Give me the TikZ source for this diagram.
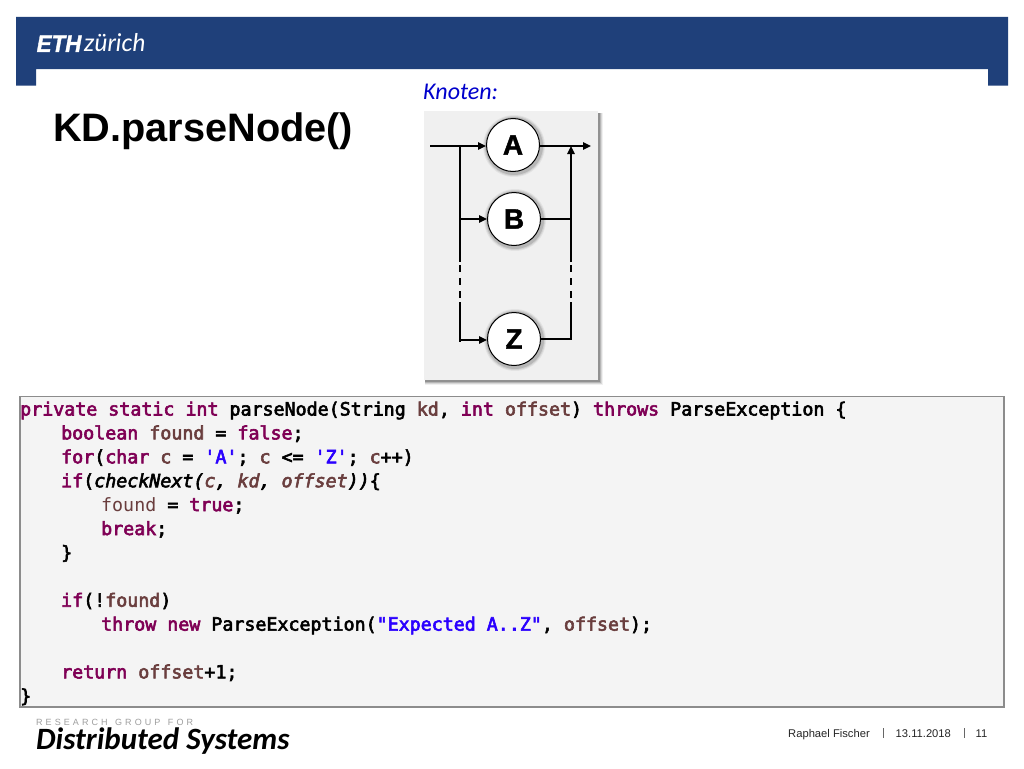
\documentclass[tikz,border=0pt]{standalone}
\usepackage{fontspec}
\setmainfont{Liberation Sans}
\newfontfamily\codefont{DejaVu Sans Mono}[BoldFont={DejaVu Sans Mono},BoldFeatures={FakeBold=3.2},ItalicFont={DejaVu Sans Mono Oblique},BoldItalicFont={DejaVu Sans Mono Oblique},BoldItalicFeatures={FakeBold=3.2}]
\newfontfamily\heavyfont{Liberation Sans Bold}[FakeBold=1.5,ItalicFont={Liberation Sans Bold Italic},ItalicFeatures={FakeBold=1.5}]
\newfontfamily\carl{Carlito}
\newfontfamily\latof{Lato}
\usetikzlibrary{arrows.meta}
\definecolor{ethblue}{HTML}{1F407A}
\definecolor{kw}{HTML}{7F0055}
\definecolor{vr}{HTML}{6A3E3E}
\definecolor{st}{HTML}{2A00FF}
\newcommand{\K}[1]{{\bfseries\color{kw}#1}}
\newcommand{\V}[1]{{\bfseries\color{vr}#1}}
\newcommand{\Vl}[1]{{\mdseries\color{vr}#1}}
\newcommand{\St}[1]{{\bfseries\color{st}#1}}
\tikzset{
  codeline/.style={anchor=base west,inner sep=0pt,font=\codefont\fontsize{18.3}{22}\selectfont\bfseries,text=black},
  circ/.style={circle,draw=black,line width=1pt,fill=white,minimum size=53pt,inner sep=0pt,font=\heavyfont\fontsize{28}{30}\selectfont},
  conn/.style={line width=1.4pt,black},
  arr/.style={conn,-{Triangle[length=8pt,width=7.5pt]}},
  foot/.style={anchor=base west,inner sep=0pt,font=\fontsize{11.2}{13}\selectfont,text=black!85},
  sep/.style={line width=0.5pt,black!60}
}
\begin{document}
\begin{tikzpicture}[x=1pt,y=-1pt]
\useasboundingbox (0,0) rectangle (1024,768);
\fill[white] (0,0) rectangle (1024,768);
% header
\fill[ethblue] (16,17) -- (1008,17) -- (1008,85.5) -- (988,85.5) -- (988,69) -- (36,69) -- (36,85.5) -- (16,85.5) -- cycle;
\node[anchor=base west,inner sep=0pt,text=white] (eth) at (36.5,52) {\scalebox{0.93}[1]{\heavyfont\fontsize{24}{27}\selectfont\itshape ETH}};
\node[anchor=base west,inner sep=0pt,text=white] (zur) at (84,52) {\latof\fontsize{24.5}{27}\selectfont\itshape zürich};
% title
\node[anchor=base west,inner sep=0pt,text=black] (title) at (53,141) {\fontsize{39.7}{42}\selectfont\bfseries KD.parseNode()};
\node[anchor=base west,inner sep=0pt,text=blue!80!black] (kn) at (423,99) {\carl\fontsize{24}{26}\selectfont\itshape Knoten:};
% panel with shadow
\foreach \d/\o in {4/0.06,3/0.1,2/0.15,1/0.2}
  \fill[black,opacity=\o] (425,113) rectangle (599+\d,381+\d);
\fill[black!6] (424,111) rectangle (598,380);
% circles
\foreach \cx/\cy in {513/145,514/219,514/339}
  \foreach \d/\o in {4/0.05,3/0.08,2/0.12}
    \fill[black,opacity=\o] (\cx+1,\cy+1) circle (27+\d);
\node[circ] (A) at (513,145) {A};
\node[circ] (B) at (514,219) {B};
\node[circ] (Z) at (514,339) {Z};
\coordinate (in) at (430,146);
\coordinate (lt) at (460,146);
\coordinate (lb) at (460,219);
\coordinate (lm) at (460,262);
\coordinate (lz1) at (460,302);
\coordinate (lz) at (460,340);
\coordinate (lend) at (460,342);
\coordinate (rt) at (571,146);
\coordinate (rb) at (571,219);
\coordinate (rm) at (571,262);
\coordinate (rz1) at (571,302);
\coordinate (rz) at (571,339);
\coordinate (out) at (591,146);
\draw[arr] (in) -- (A.west |- in);
\draw[arr] (A.east |- out) -- (out);
\draw[conn] (lt) -- (lm);
\draw[conn,dash pattern=on 7pt off 6pt] (lm) ++(0,3) -- (lz1);
\draw[conn] (lz1) -- (lend);
\draw[arr] (lb) -- (B.west);
\draw[arr] (lz) -- (Z.west |- lz);
\draw[conn] (B.east) -- (rb);
\draw[conn] (Z.east) -- (rz) -- (rz1);
\draw[conn,dash pattern=on 7pt off 6pt] (rm) ++(0,3) -- (rz1);
\draw[arr] (rm) -- (rt);
% code box
\draw[fill=black!4.5,draw=black!45,line width=1.1pt] (20,396.5) rectangle (1004,707);
\node[codeline] (l1) at (20,415.5) {\K{private} \K{static} \K{int} parseNode(String \V{kd}, \K{int} \V{offset}) \K{throws} ParseException \{};
\node[codeline] (l2) at (61,439.4) {\K{boolean} \V{found} = \K{false};};
\node[codeline] (l3) at (61,463.3) {\K{for}(\K{char} \V{c} = \St{'A'}; \V{c} <= \St{'Z'}; \V{c}++)};
\node[codeline] (l4) at (61,487.2) {\K{if}(\itshape checkNext(\V{c}, \V{kd}, \V{offset}))\upshape \{};
\node[codeline] (l5) at (101,511.1) {\Vl{found} = \K{true};};
\node[codeline] (l6) at (101,535) {\K{break};};
\node[codeline] (l7) at (61,558.9) {\}};
\node[codeline] (l9) at (61,606.7) {\K{if}(!\V{found})};
\node[codeline] (l10) at (101,630.6) {\K{throw} \K{new} ParseException(\St{"Expected A..Z"}, \V{offset});};
\node[codeline] (l12) at (61,678.4) {\K{return} \V{offset}+1;};
\node[codeline] (l13) at (20,702.3) {\}};
% footer
\node[anchor=base west,inner sep=0pt,text=black!38] (rg) at (36,725) {\addfontfeature{LetterSpace=34}\fontsize{9}{10}\selectfont RESEARCH\hspace{2pt} GROUP\hspace{2pt} FOR};
\node[anchor=base west,inner sep=0pt,text=black] (ds) at (36,749) {\carl\fontsize{31}{33}\selectfont\bfseries\itshape Distributed Systems};
\node[foot] (au) at (788,737) {Raphael Fischer};
\node[foot] (dt) at (895.5,737) {13.11.2018};
\node[foot] (pg) at (975.5,737) {11};
\draw[sep] (883,728) -- (883,738);
\draw[sep] (964,728) -- (964,738);
\end{tikzpicture}
\end{document}
